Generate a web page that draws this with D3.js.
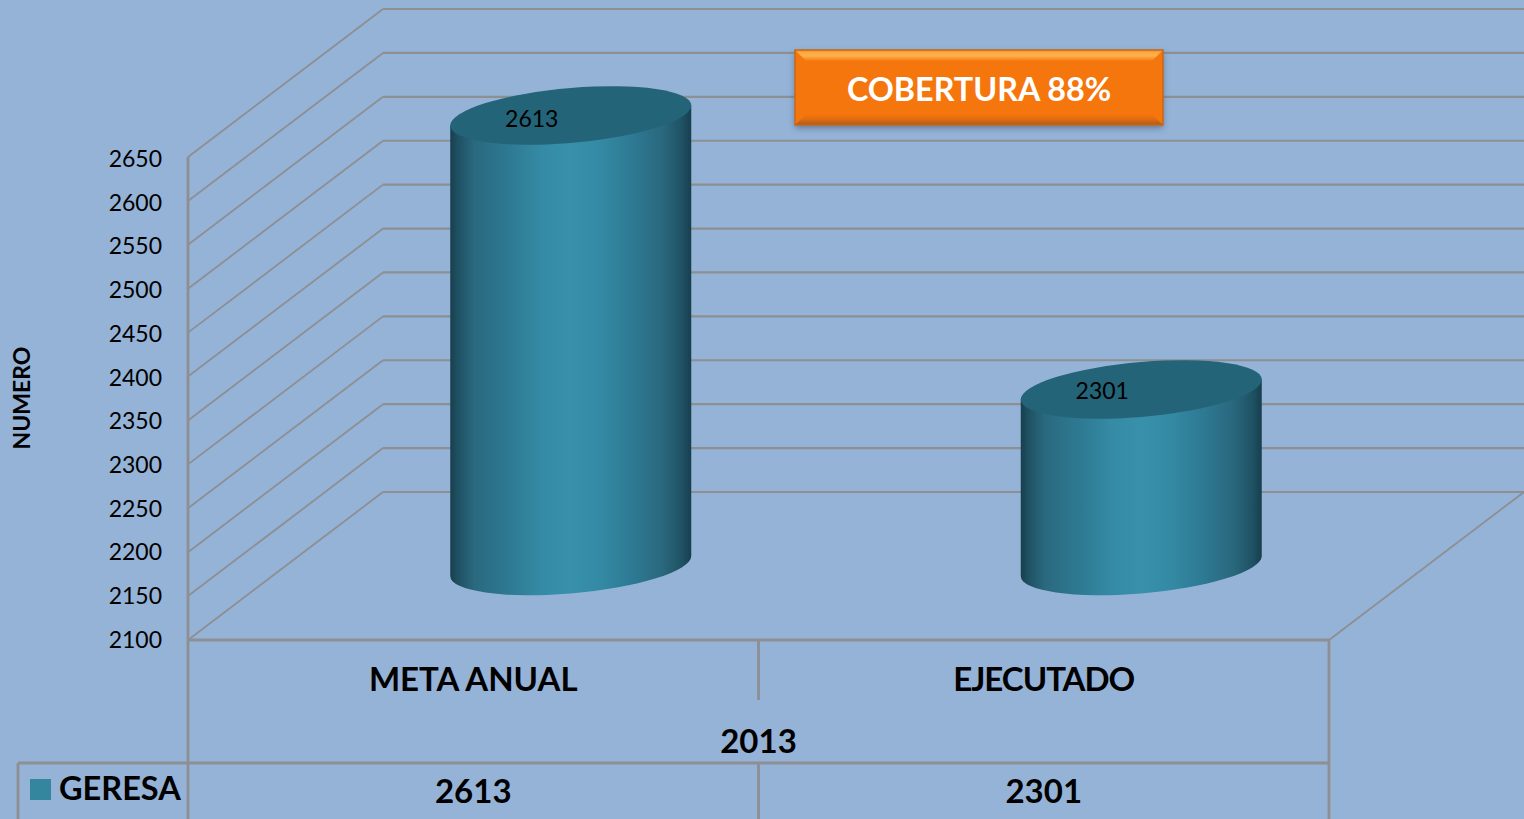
<!DOCTYPE html>
<head>
  <meta charset="utf-8" />
  <script src="https://d3js.org/d3.v7.min.js"></script>
  <style>
    body { margin: 0; background: #95b3d7; overflow: hidden; }
    text { font-family: Lato, "Open Sans", sans-serif; fill: #000; }
    .bold { font-weight: 700; }
  </style>
</head>
<body>
  <script>
    var categories = ["META ANUAL", "EJECUTADO"];
    var values = [2613, 2301];
    var yTicks = [2100, 2150, 2200, 2250, 2300, 2350, 2400, 2450, 2500, 2550, 2600, 2650];
    var seriesName = "GERESA";
    var yearLabel = "2013";
    var yTitle = "NUMERO";
    var badgeText = "COBERTURA 88%";

    var width = 1524, height = 819;
    var grid = "#8d8f93";

    // front plane of the 3d box, and how far the back wall is shifted
    var x0 = 188, x1 = 1329, floorY = 640, topY = 157;
    var depthX = 195, depthY = -148;

    var svg = d3.select("body").append("svg")
      .attr("width", width).attr("height", height)
      .style("display", "block");

    var x = d3.scaleBand().domain(categories).range([x0, x1]);
    var y = d3.scaleLinear().domain([2100, 2650]).range([floorY, topY]);
    // the labels sit a bit tighter than the lines
    var yLabels = d3.scaleLinear().domain([2100, 2650]).range([floorY, topY + 2]);

    var defs = svg.append("defs");

    var grad = defs.append("linearGradient").attr("id", "cyl");
    [[0, "#173f4e"], [0.03, "#1f5062"], [0.1, "#2a697f"], [0.25, "#2e7a93"], [0.38, "#358ba5"], [0.5, "#3890aa"],
     [0.62, "#348aa4"], [0.75, "#2e7a94"], [0.88, "#2a687e"], [0.96, "#1f5264"], [1, "#173f4e"]].forEach(function (s) {
      grad.append("stop").attr("offset", s[0]).attr("stop-color", s[1]);
    });

    var blur = defs.append("filter").attr("id", "shadow")
      .attr("x", "-5%").attr("y", "-15%").attr("width", "110%").attr("height", "135%");
    blur.append("feDropShadow").attr("dx", 0).attr("dy", 3).attr("stdDeviation", 3)
      .attr("flood-color", "#3a4a60").attr("flood-opacity", 0.55);

    var bevelTop = defs.append("linearGradient").attr("id", "bevelTop")
      .attr("x1", 0).attr("y1", 0).attr("x2", 0).attr("y2", 1);
    [[0, "#f0852a"], [0.2, "#fba93f"], [0.55, "#fdb04c"], [1, "#f5760f"]].forEach(function (s) {
      bevelTop.append("stop").attr("offset", s[0]).attr("stop-color", s[1]);
    });
    var bevelBottom = defs.append("linearGradient").attr("id", "bevelBottom")
      .attr("x1", 0).attr("y1", 0).attr("x2", 0).attr("y2", 1);
    [[0, "#f5760f"], [0.5, "#df6c10"], [1, "#a85a1c"]].forEach(function (s) {
      bevelBottom.append("stop").attr("offset", s[0]).attr("stop-color", s[1]);
    });

    // back wall lines + side wall lines
    yTicks.forEach(function (t) {
      svg.append("line")
        .attr("x1", x0).attr("y1", y(t))
        .attr("x2", x0 + depthX).attr("y2", y(t) + depthY)
        .attr("stroke", grid).attr("stroke-width", 1.8);
      svg.append("line")
        .attr("x1", x0 + depthX).attr("y1", y(t) + depthY)
        .attr("x2", width).attr("y2", y(t) + depthY)
        .attr("stroke", grid).attr("stroke-width", 2.2);
    });

    // floor
    svg.append("line").attr("x1", x1).attr("y1", floorY)
      .attr("x2", x1 + depthX).attr("y2", floorY + depthY)
      .attr("stroke", grid).attr("stroke-width", 1.8);

    // frame and data table
    var tableY = 763;
    [[x0, topY, x0, height], [x0, floorY, x1, floorY], [x1, floorY, x1, height],
     [18, tableY, x1, tableY], [18, tableY, 18, height],
     [x(categories[1]), floorY, x(categories[1]), 700], [x(categories[1]), tableY, x(categories[1]), height]
    ].forEach(function (l) {
      svg.append("line")
        .attr("x1", l[0]).attr("y1", l[1]).attr("x2", l[2]).attr("y2", l[3])
        .attr("stroke", grid).attr("stroke-width", 2.8);
    });

    // cylinders
    var cw = 241, rx = cw / 2, ry = 27.5, tilt = -10 / rx;
    var cyl = svg.selectAll("g.cyl")
      .data(categories.map(function (c, i) { return { cat: c, value: values[i] }; }))
      .join("g")
      .attr("class", "cyl")
      .attr("transform", function (d) {
        var cx = x(d.cat) + x.bandwidth() / 2 + depthX / 2;
        return "translate(" + cx + "," + (floorY + depthY / 2) + ") matrix(1," + tilt + ",0,1,0,0)";
      });

    cyl.append("path")
      .attr("fill", "url(#cyl)")
      .attr("d", function (d) {
        var h = floorY - y(d.value);
        return "M" + (-rx) + "," + (-h) + "V0A" + rx + "," + ry + " 0 0 0 " + rx + ",0V" + (-h) + "Z";
      });

    cyl.append("ellipse")
      .attr("rx", rx).attr("ry", ry)
      .attr("cy", function (d) { return y(d.value) - floorY; })
      .attr("fill", "#246478");

    // data labels on the cylinder tops
    svg.selectAll("text.val")
      .data(values)
      .join("text")
      .attr("class", "val")
      .attr("x", function (d, i) { return x(categories[i]) + x.bandwidth() / 2 + depthX / 2 - 39; })
      .attr("y", function (d, i) { return y(d) + depthY / 2 + (i ? 10 : 12); })
      .attr("text-anchor", "middle")
      .attr("font-size", 23)
      .text(function (d) { return d; });

    // y axis labels
    var axis = svg.append("g")
      .attr("transform", "translate(" + 162 + ",0)")
      .call(d3.axisLeft(yLabels).tickValues(yTicks).tickSize(0).tickPadding(0).tickFormat(d3.format("d")));
    axis.select(".domain").remove();
    axis.selectAll("text").attr("font-size", 23).attr("font-family", null);

    svg.append("text")
      .attr("class", "bold")
      .attr("transform", "translate(30,398) rotate(-90)")
      .attr("text-anchor", "middle")
      .attr("font-size", 23)
      .text(yTitle);

    // category labels, year, table row
    svg.selectAll("text.cat")
      .data(categories)
      .join("text")
      .attr("class", "cat bold")
      .attr("x", function (d) { return x(d) + x.bandwidth() / 2; })
      .attr("y", 691)
      .attr("text-anchor", "middle")
      .attr("font-size", 33)
      .attr("letter-spacing", function (d, i) { return i ? -1 : 0; })
      .text(function (d) { return d; });

    svg.append("text")
      .attr("class", "bold")
      .attr("x", (x0 + x1) / 2).attr("y", 753)
      .attr("text-anchor", "middle")
      .attr("font-size", 33)
      .text(yearLabel);

    svg.selectAll("text.row")
      .data(values)
      .join("text")
      .attr("class", "row bold")
      .attr("x", function (d, i) { return x(categories[i]) + x.bandwidth() / 2; })
      .attr("y", 803)
      .attr("text-anchor", "middle")
      .attr("font-size", 33)
      .text(function (d) { return d; });

    svg.append("rect")
      .attr("x", 30).attr("y", 779).attr("width", 21).attr("height", 21)
      .attr("fill", "#34869f");
    svg.append("text")
      .attr("class", "bold")
      .attr("x", 59).attr("y", 800)
      .attr("font-size", 32.5)
      .text(seriesName);

    // orange badge
    var bx = 795, by = 50, bw = 368, bh = 75, b = 11;
    var badge = svg.append("g");
    badge.append("rect")
      .attr("x", bx).attr("y", by).attr("width", bw).attr("height", bh)
      .attr("fill", "#f5760f").attr("filter", "url(#shadow)");
    var bevel = [
      ["url(#bevelTop)", [[bx, by], [bx + bw, by], [bx + bw - b, by + b], [bx + b, by + b]]],
      ["url(#bevelBottom)", [[bx, by + bh], [bx + bw, by + bh], [bx + bw - b, by + bh - b], [bx + b, by + bh - b]]]
    ];
    badge.selectAll("polygon")
      .data(bevel)
      .join("polygon")
      .attr("fill", function (d) { return d[0]; })
      .attr("points", function (d) { return d[1].join(" "); });
    badge.append("rect")
      .attr("x", bx).attr("y", by).attr("width", bw).attr("height", bh)
      .attr("fill", "none").attr("stroke", "#c8681a").attr("stroke-width", 1.5);
    badge.append("text")
      .attr("class", "bold")
      .attr("x", bx + bw / 2).attr("y", 101)
      .attr("text-anchor", "middle")
      .attr("font-size", 32.3)
      .style("fill", "#fff")
      .text(badgeText);
  </script>
</body>
